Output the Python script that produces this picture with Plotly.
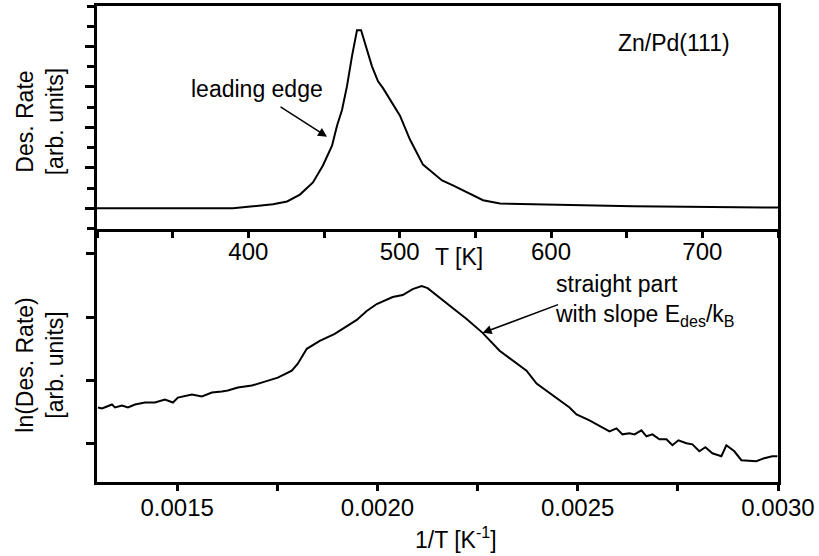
import plotly.graph_objects as go

# ---------------- data ----------------
# Top panel: TPD spectrum, desorption rate vs temperature
T_K = [300.0, 389.9, 403.1, 416.3, 425.6, 434.1, 442.7, 449.3, 455.3, 458.6, 461.9,
       465.2, 468.5, 470.5, 471.8, 474.5, 478.4, 481.7, 485.7, 489.0, 500.2, 506.8,
       515.4, 522.0, 528.0, 535.2, 546.5, 555.1, 566.3, 588.1, 619.2, 654.2, 750.0]
des_rate = [0.0, 0.0, 0.05, 0.10, 0.17, 0.34, 0.64, 1.06, 1.55, 2.04, 2.43,
            3.02, 3.76, 4.15, 4.40, 4.40, 3.91, 3.51, 3.14, 2.97, 2.29, 1.70,
            1.08, 0.88, 0.69, 0.57, 0.37, 0.20, 0.12, 0.10, 0.07, 0.05, 0.02]

# Bottom panel: Arrhenius-type plot, ln(rate) vs 1/T
inv_T = [0.0013025, 0.0013125, 0.0013249, 0.0013374, 0.0013449, 0.0013623, 0.0013773,
         0.0013948, 0.0014197, 0.0014446, 0.0014696, 0.0014895, 0.0015020, 0.0015369,
         0.0015618, 0.0015868, 0.0016117, 0.0016267, 0.0016516, 0.0016865, 0.0017190,
         0.0017514, 0.0017863, 0.0018012, 0.0018237, 0.0018561, 0.0018935, 0.0019060,
         0.0019484, 0.0019733, 0.0019983, 0.0020382, 0.0020631, 0.0020880, 0.0021105,
         0.0021254, 0.0021554, 0.0021878, 0.0022227, 0.0022626, 0.0023050, 0.0023723,
         0.0023973, 0.0024471, 0.0024796, 0.0024970, 0.0025294, 0.0025793, 0.0025968,
         0.0026117, 0.0026292, 0.0026417, 0.0026591, 0.0026716, 0.0026865, 0.0027040,
         0.0027215, 0.0027364, 0.0027514, 0.0027713, 0.0027863, 0.0028037, 0.0028187,
         0.0028362, 0.0028586, 0.0028711, 0.0028910, 0.0029085, 0.0029459, 0.0029658,
         0.0029858, 0.0029983]
ln_rate = [-0.424, -0.440, -0.408, -0.377, -0.424, -0.392, -0.424,
           -0.377, -0.345, -0.345, -0.298, -0.345, -0.267, -0.220,
           -0.251, -0.188, -0.173, -0.157, -0.110, -0.078, -0.016,
           0.047, 0.157, 0.267, 0.502, 0.628, 0.738, 0.785,
           0.958, 1.099, 1.209, 1.319, 1.350, 1.444, 1.491,
           1.460, 1.303, 1.146, 0.973, 0.754, 0.471, 0.157,
           -0.047, -0.267, -0.424, -0.534, -0.628, -0.801, -0.754,
           -0.848, -0.832, -0.848, -0.785, -0.879, -0.848, -0.926,
           -0.926, -1.020, -0.942, -0.989, -1.005, -1.115, -1.052,
           -1.146, -1.193, -1.020, -1.115, -1.256, -1.272, -1.224,
           -1.193, -1.193]

T_tick_vals = [400, 500, 600, 700]
T_tick_text = ["400", "500", "600", "700"]
invT_tick_vals = [0.0015, 0.0020, 0.0025, 0.0030]
invT_tick_text = ["0.0015", "0.0020", "0.0025", "0.0030"]
rate_tick_vals = [0, 1, 2, 3, 4]
ln_tick_vals = [-1, 0, 1, 2]

# ---------------- styling ----------------
FONT = "Arial, Liberation Sans, sans-serif"
FS_TICK = 24
FS = 23
T_RANGE = [300, 750]
INVT_RANGE = [0.0013, 0.0030]
RATE_RANGE = [-0.5, 5.0]
LN_RANGE = [-1.6, 2.4]
SPLIT = 0.5324

fig = go.Figure()
fig.add_trace(go.Scatter(x=T_K, y=des_rate, mode="lines",
                         line=dict(color="black", width=2),
                         xaxis="x", yaxis="y", showlegend=False, hoverinfo="skip"))
fig.add_trace(go.Scatter(x=inv_T, y=ln_rate, mode="lines",
                         line=dict(color="black", width=2),
                         xaxis="x2", yaxis="y2", showlegend=False, hoverinfo="skip"))

main_ax = dict(showline=True, linewidth=3, linecolor="black", mirror=True,
               showgrid=False, zeroline=False, ticks="outside", ticklen=8,
               tickwidth=3, tickcolor="black",
               tickfont=dict(family=FONT, size=FS_TICK, color="black"))
over_ax = dict(showline=False, showgrid=False, zeroline=False, ticks="inside",
               ticklen=8, tickwidth=3, tickcolor="black", showticklabels=False)

fig.update_layout(
    width=819, height=556,
    margin=dict(l=97, r=41, t=3, b=74),
    paper_bgcolor="white", plot_bgcolor="white",
    font=dict(family=FONT, size=FS, color="black"),
    xaxis=dict(main_ax, domain=[0, 1], anchor="y", range=T_RANGE,
               tickvals=T_tick_vals, ticktext=T_tick_text, ticklen=6,
               ticklabelstandoff=-6,
               minor=dict(ticks="outside", ticklen=6, tickwidth=3, dtick=50, tick0=0,
                          tickcolor="black")),
    yaxis=dict(main_ax, domain=[SPLIT, 1], anchor="x", range=RATE_RANGE,
               tickvals=rate_tick_vals, showticklabels=False, ticklen=9,
               minor=dict(ticks="outside", ticklen=7, tickwidth=3, dtick=0.5, tick0=0,
                          tickcolor="black")),
    xaxis2=dict(main_ax, domain=[0, 1], anchor="y2", range=INVT_RANGE, mirror=False,
                tickvals=invT_tick_vals, ticktext=invT_tick_text, ticklen=6,
                ticklabelstandoff=-4,
                minor=dict(ticks="outside", ticklen=6, tickwidth=3, dtick=0.00025,
                           tick0=0, tickcolor="black")),
    yaxis2=dict(main_ax, domain=[0, SPLIT], anchor="x2", range=LN_RANGE,
                tickvals=ln_tick_vals, showticklabels=False, ticklen=8),
    xaxis3=dict(over_ax, overlaying="x", anchor="y", side="top", range=T_RANGE,
                tickvals=T_tick_vals, ticklen=10,
                minor=dict(ticks="inside", ticklen=7, tickwidth=3, dtick=50, tick0=0,
                           tickcolor="black")),
    yaxis3=dict(over_ax, overlaying="y", anchor="x", side="right", range=RATE_RANGE,
                tickvals=rate_tick_vals, ticklen=10,
                minor=dict(ticks="inside", ticklen=5, tickwidth=3, dtick=0.5, tick0=0,
                           tickcolor="black")),
    yaxis4=dict(over_ax, overlaying="y2", anchor="x2", side="right", range=LN_RANGE,
                tickvals=ln_tick_vals),
)

ann_font = dict(family=FONT, size=FS, color="black")
C = dict(xanchor="center", yanchor="middle")
annotations = [
    # top panel texts
    dict(C, x=405.7, y=2.95, xref="x", yref="y", text="leading edge", showarrow=False,
         font=ann_font),
    dict(x=452.0, y=1.77, xref="x", yref="y", ax=420.3, ay=2.53, axref="x", ayref="y",
         text="", showarrow=True, arrowhead=2, arrowsize=1.2, arrowwidth=1.5,
         arrowcolor="black"),
    dict(C, x=681.3, y=4.08, xref="x", yref="y", text="Zn/Pd(111)", showarrow=False,
         font=ann_font),
    # bottom panel texts
    dict(x=0.0024372, y=1.27, xref="x2", yref="y2",
         text="straight part<br>with slope E<sub>des</sub>/k<sub>B</sub>",
         showarrow=False, xanchor="left", yanchor="middle", align="left",
         font=ann_font),
    dict(x=0.0022626, y=0.754, xref="x2", yref="y2", ax=0.0024546, ay=1.209,
         axref="x2", ayref="y2", text="", showarrow=True, arrowhead=2, arrowsize=1.2,
         arrowwidth=1.5, arrowcolor="black"),
    # axis titles
    dict(C, x=(459 - 97) / 681, y=(482 - 256) / 479, xref="paper", yref="paper",
         text="T [K]", showarrow=False, font=ann_font),
    dict(C, x=(456 - 97) / 681, y=(482 - 538) / 479, xref="paper", yref="paper",
         text="1/T [K<sup>-1</sup>]", showarrow=False, font=ann_font),
    dict(C, x=(40 - 97) / 681, y=(482 - 120) / 479, xref="paper", yref="paper",
         text="Des. Rate<br>[arb. units]", showarrow=False, textangle=-90,
         font=ann_font),
    dict(C, x=(40 - 97) / 681, y=(482 - 365) / 479, xref="paper", yref="paper",
         text="ln(Des. Rate)<br>[arb. units]", showarrow=False, textangle=-90,
         font=ann_font),
]
fig.update_layout(annotations=annotations)

fig.write_html("out.html", config={"displayModeBar": False},
               post_script="document.body.style.margin='0';document.body.style.padding='0';")
